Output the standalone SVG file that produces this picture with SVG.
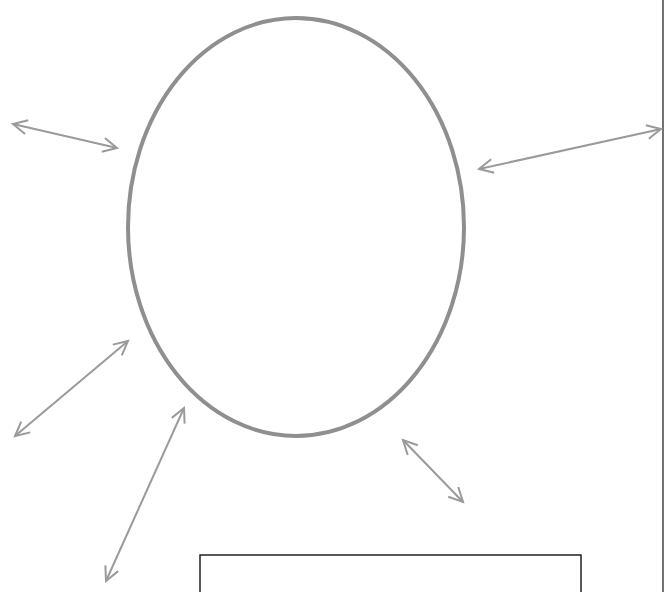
<svg xmlns="http://www.w3.org/2000/svg" width="670" height="592" viewBox="0 0 670 592">
<style>
.conn{stroke:#9a9a9a;stroke-width:2;fill:none;marker-start:url(#ah);marker-end:url(#ah)}
</style>
<defs>
<marker id="ah" markerUnits="userSpaceOnUse" markerWidth="20" markerHeight="20" viewBox="-16 -10 20 20" refX="0" refY="0" orient="auto-start-reverse">
<path d="M-14 -7 L0 0 L-14 7" fill="none" stroke="#9a9a9a" stroke-width="2"/>
</marker>
</defs>
<rect width="670" height="592" fill="#fff"/>
<g id="ellipse">
<ellipse cx="296" cy="227" rx="168" ry="209" fill="none" stroke="#8f8f8f" stroke-width="4"/>
</g>
<g id="box">
<rect x="200" y="555" width="381" height="60" fill="none" stroke="#222" stroke-width="1.5"/>
</g>
<g id="border">
<line x1="663" y1="0" x2="663" y2="592" stroke="#444" stroke-width="1.5"/>
</g>
<g id="connectors">
<line class="conn" x1="13" y1="124" x2="117" y2="148"/>
<line class="conn" x1="479" y1="169" x2="661" y2="129"/>
<line class="conn" x1="15" y1="436" x2="128" y2="341"/>
<line class="conn" x1="106" y1="581" x2="184" y2="408"/>
<line class="conn" x1="403" y1="440" x2="463" y2="502"/>
</g>
</svg>
